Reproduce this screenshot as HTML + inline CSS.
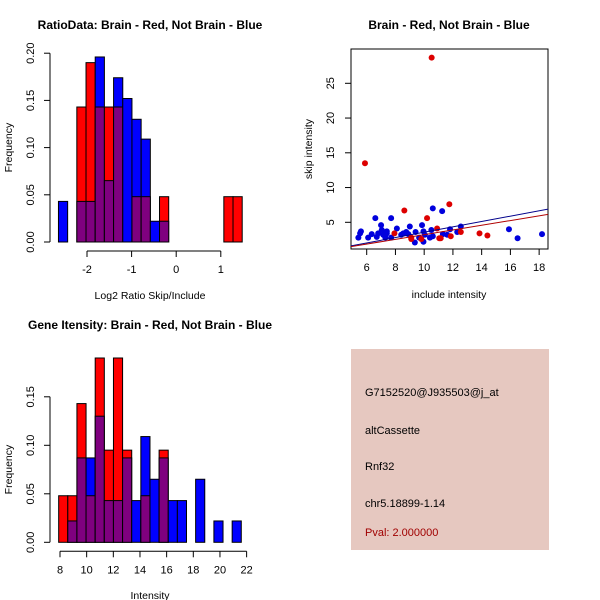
<!DOCTYPE html>
<html><head><meta charset="utf-8"><style>
body{margin:0;background:#fff}
svg{display:block;font-family:"Liberation Sans",sans-serif}
</style></head><body>
<svg id="c" width="600" height="600" xmlns="http://www.w3.org/2000/svg">
<rect x="351" y="349" width="198" height="201" fill="#e6c8c0"/>
<g font-size="11" fill="#000">
<text x="365" y="396">G7152520@J935503@j_at</text>
<text x="365" y="434">altCassette</text>
<text x="365" y="470">Rnf32</text>
<text x="365" y="507">chr5.18899-1.14</text>
<text x="365" y="536" fill="#a00000">Pval: 2.000000</text>
</g>
</svg>
<script>
// Ratio histogram data
const ratioStart=-2.64, ratioWidth=0.206;
const ratioBlue=[0.043,0,0.043,0.043,0.196,0.065,0.174,0.152,0.130,0.109,0.022,0.022,0,0,0,0,0,0,0,0];
const ratioRed=[0,0,0.143,0.190,0.143,0.143,0.143,0,0.048,0.048,0,0.048,0,0,0,0,0,0,0.048,0.048];
const ratioXTicks=[-2,-1,0,1];
const ratioYTicks=["0.00","0.05","0.10","0.15","0.20"];
// Intensity histogram data
const intStart=7.9, intWidth=0.685;
const intBlue=[0,0.022,0.087,0.087,0.130,0.043,0.043,0.087,0.043,0.109,0.065,0.087,0.043,0.043,0,0.065,0,0.022,0,0.022];
const intRed=[0.048,0.048,0.143,0.048,0.190,0.095,0.190,0.095,0,0.048,0,0.095,0,0,0,0,0,0,0,0];
const intXTicks=[8,10,12,14,16,18,20,22];
const intYTicks=["0.00","0.05","0.10","0.15"];
// Scatter data
const redX=[5.88,10.52,8.62,10.2,11.75,7.93,9.1,9.1,9.8,10.9,11.05,11.15,11.85,12.55,13.85,14.4];
const redY=[13.5,28.7,6.7,5.6,7.6,3.4,2.8,2.6,2.6,4.1,2.7,2.7,3.0,3.6,3.4,3.1];
const blueX=[5.42,5.54,5.6,6.1,6.35,6.6,6.7,6.8,7.0,7.05,7.15,7.3,7.4,7.4,7.7,7.7,8.1,8.4,8.55,8.75,8.9,9.0,9.35,9.4,9.65,9.85,9.95,9.95,10.05,10.4,10.5,10.6,10.6,11.25,11.3,11.6,11.8,12.3,12.55,15.9,16.5,18.2];
const blueY=[2.8,3.4,3.7,2.8,3.3,5.6,2.9,3.4,4.6,3.9,3.2,2.8,3.7,3.4,5.6,2.8,4.1,3.2,3.4,3.6,3.3,4.4,2.1,3.6,2.8,4.6,3.7,2.2,3.2,2.8,3.9,3.0,7.0,6.6,3.3,3.2,4.0,3.6,4.4,4.0,2.7,3.3];
const blueFit=[-0.29,0.386]; // intercept, slope
const redFit=[-0.16,0.338];
const scatXTicks=[6,8,10,12,14,16,18];
const scatYTicks=[5,10,15,20,25];

const svg=document.getElementById('c');
const NS='http://www.w3.org/2000/svg';
function el(tag,attrs,parent){const e=document.createElementNS(NS,tag);for(const k in attrs)e.setAttribute(k,attrs[k]);(parent||svg).appendChild(e);return e;}
function txt(s,x,y,attrs,parent){const t=el('text',Object.assign({x:x,y:y},attrs||{}),parent);t.textContent=s;return t;}

function hist(o){
  const g=el('g',{});
  
  
  const sx=v=>o.x0+(v-o.xv0)*o.kx, sy=v=>o.y0-v*o.ky;
  const n=Math.max(o.red.length,o.blue.length);
  for(let i=0;i<n;i++){
    const r=o.red[i]||0,b=o.blue[i]||0;
    const a=sx(o.start+i*o.w),c=sx(o.start+(i+1)*o.w);
    const hi=Math.max(r,b),lo=Math.min(r,b);
    if(hi>0){
      const rc=el('rect',{x:a,y:sy(hi),width:c-a,height:sy(0)-sy(hi),fill:r>=b?'#ff0000':'#0000ff',stroke:'#000','stroke-width':1},g);
      
      
    }
    if(lo>0){
      const pc=el('rect',{x:a,y:sy(lo),width:c-a,height:sy(0)-sy(lo),fill:'#7f007f',stroke:'#000','stroke-width':1},g);
      
      
    }
  }
  // y axis
  const ya=el('g',{stroke:'#000'},g);
  
  
  const yv=o.yTicks.map(Number);
  el('line',{x1:50,x2:50,y1:sy(yv[0]),y2:sy(yv[yv.length-1])},ya);
  o.yTicks.forEach(t=>{const y=sy(+t);el('line',{x1:44,x2:50,y1:y,y2:y},ya);
    const l=txt(t,34,y,{'font-size':11,'text-anchor':'middle',stroke:'none',transform:'rotate(-90 34 '+y+')'},g);
    
    });
  const xa=el('g',{stroke:'#000'},g);
  
  
  const ay=o.y0+9;
  el('line',{x1:sx(o.xTicks[0]),x2:sx(o.xTicks[o.xTicks.length-1]),y1:ay,y2:ay},xa);
  o.xTicks.forEach(t=>{const x=sx(t);el('line',{x1:x,x2:x,y1:ay,y2:ay+6},xa);
    const l=txt(String(t),x,ay+22,{'font-size':11,'text-anchor':'middle'},g);
    
    });
  const t1=txt(o.title,150,o.ty,{'font-size':12,'font-weight':'bold','text-anchor':'middle'},g);
  
  
  const t2=txt(o.xlab,150,o.ty+270,{'font-size':10.5,'text-anchor':'middle'},g);
  
  
  const yl=(o.y0+sy(yv[yv.length-1]))/2;
  const t3=txt('Frequency',12,yl,{'font-size':10.5,'text-anchor':'middle',transform:'rotate(-90 12 '+yl+')'},g);
  
  
}
hist({name:'ratio-histogram',red:ratioRed,blue:ratioBlue,start:ratioStart,w:ratioWidth,x0:87,xv0:-2,kx:44.6,y0:242,ky:944,xTicks:ratioXTicks,yTicks:ratioYTicks,title:'RatioData: Brain - Red, Not Brain - Blue',xlab:'Log2 Ratio Skip/Include',ty:29});
hist({name:'intensity-histogram',red:intRed,blue:intBlue,start:intStart,w:intWidth,x0:60,xv0:8,kx:13.33,y0:542.3,ky:970,xTicks:intXTicks,yTicks:intYTicks,title:'Gene Itensity: Brain - Red, Not Brain - Blue',xlab:'Intensity',ty:329});

// scatter
(function(){
  const g=el('g',{});
  
  
  const sx=v=>366.7+(v-6)*14.37, sy=v=>222.3-(v-5)*6.95;
  const L=351,R=548,T=49,B=249;
  const fr=el('rect',{x:L,y:T,width:R-L,height:B-T,fill:'none',stroke:'#000'},g);
  
  
  const cp=el('clipPath',{id:'sc'},g);el('rect',{x:L,y:T,width:R-L,height:B-T},cp);
  const pts=el('g',{'clip-path':'url(#sc)'},g);
  blueX.forEach((x,i)=>{const c=el('circle',{cx:sx(x),cy:sy(blueY[i]),r:3,fill:'#0000dd'},pts);
    
    });
  redX.forEach((x,i)=>{const c=el('circle',{cx:sx(x),cy:sy(redY[i]),r:3,fill:'#dd0000'},pts);
    
    });
  const x1=4.9,x2=18.7;
  const bl=el('line',{x1:sx(x1),x2:sx(x2),y1:sy(blueFit[0]+blueFit[1]*x1),y2:sy(blueFit[0]+blueFit[1]*x2),stroke:'#00008b'},pts);
  
  
  const rl=el('line',{x1:sx(x1),x2:sx(x2),y1:sy(redFit[0]+redFit[1]*x1),y2:sy(redFit[0]+redFit[1]*x2),stroke:'#b00000'},pts);
  
  
  scatXTicks.forEach(t=>{const x=sx(t);el('line',{x1:x,x2:x,y1:B,y2:B+6,stroke:'#000'},g);
    const l=txt(String(t),x,B+22,{'font-size':11,'text-anchor':'middle'},g);
    
    });
  scatYTicks.forEach(t=>{const y=sy(t);el('line',{x1:L-6,x2:L,y1:y,y2:y,stroke:'#000'},g);
    const l=txt(String(t),334,y,{'font-size':11,'text-anchor':'middle',transform:'rotate(-90 334 '+y+')'},g);
    
    });
  const t1=txt('Brain - Red, Not Brain - Blue',449,29,{'font-size':12,'font-weight':'bold','text-anchor':'middle'},g);
  
  
  const t2=txt('include intensity',449,298,{'font-size':10.5,'text-anchor':'middle'},g);
  
  
  const t3=txt('skip intensity',312,149,{'font-size':10.5,'text-anchor':'middle',transform:'rotate(-90 312 149)'},g);
  
  
})();
</script>
</body></html>
